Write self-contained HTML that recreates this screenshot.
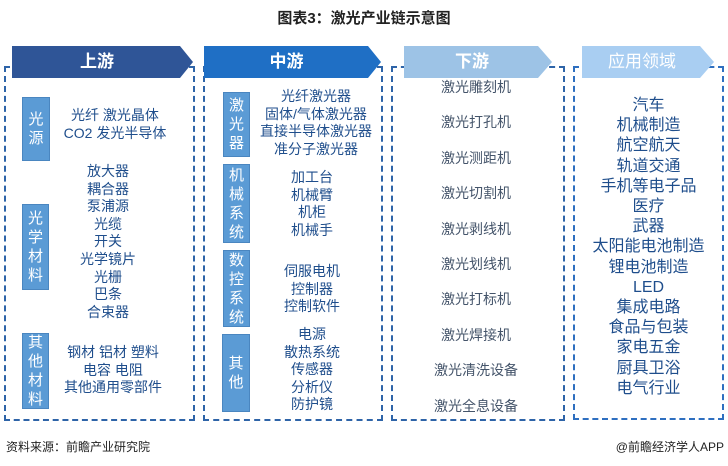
<!DOCTYPE html>
<html><head><meta charset="utf-8"><style>
*{margin:0;padding:0;box-sizing:border-box}
body{width:728px;height:466px;background:#fff;position:relative;overflow:hidden;font-family:"Liberation Sans","Noto Sans CJK SC",sans-serif}
.a{position:absolute}
.t{position:absolute;text-align:center;font-size:14px;color:#1f4e8c;white-space:nowrap}
.g{color:#44546a}
.lab{position:absolute;background:#5b9bd5;color:#fff;font-size:15px;text-align:center;border:1px solid #4a86c0;display:flex;flex-direction:column;justify-content:center;line-height:19px}
.d{position:absolute;border:2px dashed #2e64a8}
.hd{position:absolute;color:#fff;font-size:17px;font-weight:bold;text-align:center;line-height:31px}
</style></head><body>
<div class="a" style="left:0;top:7px;width:728px;text-align:center;font-size:15px;font-weight:bold;color:#222">图表3：激光产业链示意图</div>

<div class="d" style="left:4px;top:66px;width:191px;height:355px;border-top:none"></div>
<div class="d" style="left:203px;top:66px;width:180px;height:355px;border-top:none"></div>
<div class="d" style="left:391px;top:66px;width:174px;height:355px;border-top:none"></div>
<div class="d" style="left:573px;top:66px;width:151px;height:354px;border-width:2.5px;border-color:#2e6fc0"></div>
<div class="a" style="left:4px;top:66px;width:191px;border-top:2px dashed #2e64a8"></div>
<div class="a" style="left:203px;top:66px;width:180px;border-top:2px dashed #2e64a8"></div>
<div class="a" style="left:391px;top:66px;width:174px;border-top:2px dashed #2e64a8"></div>

<svg class="a" style="left:0;top:0" width="728" height="90">
<polygon points="12,46 180,46 193,62 180,78 12,78" fill="#2f5597"/>
<polygon points="204,46 368,46 381,62 368,78 204,78" fill="#1f6fc5"/>
<polygon points="404,46 538,46 552,62 538,78 404,78" fill="#9dc3e6"/>
<polygon points="582,46 700,46 714,62 700,78 582,78" fill="#a9cef2"/>
</svg>
<div class="hd" style="left:12px;top:46px;width:170px">上游</div>
<div class="hd" style="left:204px;top:46px;width:165px">中游</div>
<div class="hd" style="left:404px;top:46px;width:136px">下游</div>
<div class="hd" style="left:582px;top:46px;width:120px;font-weight:normal">应用领域</div>

<div class="lab" style="left:22px;top:97px;width:28px;height:64px">光<br>源</div>
<div class="lab" style="left:22px;top:204px;width:27px;height:86px">光<br>学<br>材<br>料</div>
<div class="lab" style="left:22px;top:333px;width:27px;height:76px">其<br>他<br>材<br>料</div>
<div class="lab" style="left:223px;top:92px;width:27px;height:65px">激<br>光<br>器</div>
<div class="lab" style="left:223px;top:164px;width:27px;height:79px">机<br>械<br>系<br>统</div>
<div class="lab" style="left:223px;top:250px;width:27px;height:77px">数<br>控<br>系<br>统</div>
<div class="lab" style="left:222px;top:334px;width:28px;height:78px">其<br>他</div>

<div class="t" style="left:50px;top:107px;width:130px;line-height:17.5px">光纤 激光晶体<br>CO2 发光半导体</div>
<div class="t" style="left:50px;top:163px;width:116px;line-height:17.6px">放大器<br>耦合器<br>泵浦源<br>光缆<br>开关<br>光学镜片<br>光栅<br>巴条<br>合束器</div>
<div class="t" style="left:50px;top:344px;width:126px;line-height:17.5px">钢材 铝材 塑料<br>电容 电阻<br>其他通用零部件</div>

<div class="t" style="left:250px;top:88px;width:132px;line-height:17.5px">光纤激光器<br>固体/气体激光器<br>直接半导体激光器<br>准分子激光器</div>
<div class="t" style="left:250px;top:169px;width:124px;line-height:17.6px">加工台<br>机械臂<br>机柜<br>机械手</div>
<div class="t" style="left:250px;top:263px;width:124px;line-height:17.5px">伺服电机<br>控制器<br>控制软件</div>
<div class="t" style="left:250px;top:326px;width:124px;line-height:17.5px">电源<br>散热系统<br>传感器<br>分析仪<br>防护镜</div>

<div class="t g" style="left:400px;top:70px;width:152px;line-height:35.4px">激光雕刻机<br>激光打孔机<br>激光测距机<br>激光切割机<br>激光剥线机<br>激光划线机<br>激光打标机<br>激光焊接机<br>激光清洗设备<br>激光全息设备</div>

<div class="t" style="left:573px;top:96px;width:151px;font-size:16px;line-height:20.2px">汽车<br>机械制造<br>航空航天<br>轨道交通<br>手机等电子品<br>医疗<br>武器<br>太阳能电池制造<br>锂电池制造<br>LED<br>集成电路<br>食品与包装<br>家电五金<br>厨具卫浴<br>电气行业</div>

<div class="a" style="left:6px;top:438px;font-size:12px;color:#222">资料来源：前瞻产业研究院</div>
<div class="a" style="right:4px;top:438px;font-size:12px;color:#222">@前瞻经济学人APP</div>
</body></html>
